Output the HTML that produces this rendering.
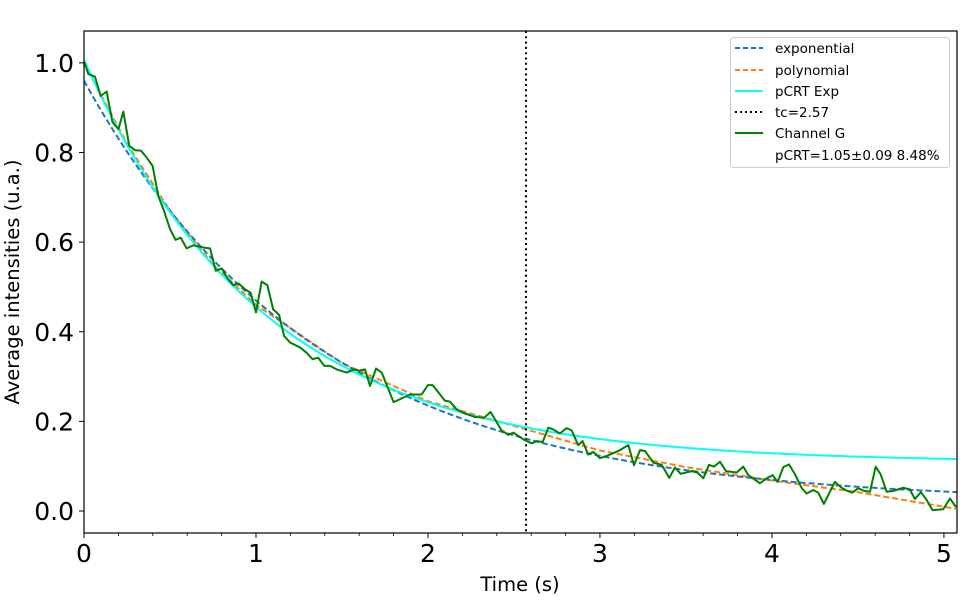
<!DOCTYPE html>
<html><head><meta charset="utf-8"><style>
body{margin:0;background:#fff}
svg text{font-family:"DejaVu Sans","Liberation Sans",sans-serif}
</style></head><body>
<svg id="chart" width="960" height="600" xmlns="http://www.w3.org/2000/svg">
<rect width="960" height="600" fill="#fff"/>
<g id="plot"></g>
<g id="axes"></g>
<text x="520" y="591" font-size="19.5" text-anchor="middle">Time (s)</text>
<text transform="translate(19,282) rotate(-90)" font-size="19.5" text-anchor="middle">Average intensities (u.a.)</text>
<g>
<rect x="730.5" y="37.5" width="219" height="130" rx="3" fill="#fff" fill-opacity="0.8" stroke="#ccc"/>
<line x1="735" y1="48" x2="763" y2="48" stroke="#1f77b4" stroke-width="2" stroke-dasharray="5,3"/>
<text x="775" y="53" font-size="13.5">exponential</text>
<line x1="735" y1="70" x2="763" y2="70" stroke="#ff7f0e" stroke-width="2" stroke-dasharray="5,3"/>
<text x="775" y="75" font-size="13.5">polynomial</text>
<line x1="735" y1="91" x2="763" y2="91" stroke="#00ffff" stroke-width="2"/>
<text x="775" y="96" font-size="13.5">pCRT Exp</text>
<line x1="735" y1="112" x2="763" y2="112" stroke="#000" stroke-width="2" stroke-dasharray="2,3"/>
<text x="775" y="117" font-size="13.5">tc=2.57</text>
<line x1="735" y1="133" x2="763" y2="133" stroke="#008000" stroke-width="2"/>
<text x="775" y="138" font-size="13.5">Channel G</text>
<text x="775" y="160" font-size="13.5">pCRT=1.05±0.09 8.48%</text>
</g>
</svg>
<script>
const greenT=[0,0.006,0.025,0.064,0.097,0.132,0.165,0.2,0.229,0.263,0.297,0.331,0.364,0.399,0.432,0.465,0.5,0.533,0.562,0.597,0.636,0.694,0.733,0.766,0.801,0.835,0.868,0.897,0.936,0.969,1.0,1.033,1.066,1.1,1.134,1.163,1.198,1.256,1.295,1.328,1.362,1.397,1.43,1.469,1.527,1.57,1.6,1.634,1.663,1.698,1.731,1.8,1.857,1.895,1.963,2.0,2.027,2.099,2.128,2.167,2.205,2.273,2.326,2.364,2.428,2.467,2.496,2.554,2.603,2.632,2.667,2.7,2.729,2.767,2.806,2.835,2.874,2.899,2.932,2.961,3.0,3.039,3.107,3.165,3.198,3.233,3.262,3.31,3.359,3.403,3.436,3.469,3.533,3.566,3.601,3.634,3.663,3.698,3.733,3.795,3.833,3.863,3.93,3.969,4.004,4.033,4.066,4.099,4.134,4.172,4.202,4.24,4.269,4.302,4.366,4.405,4.438,4.467,4.502,4.535,4.57,4.603,4.632,4.667,4.706,4.764,4.802,4.831,4.866,4.899,4.934,4.996,5.035,5.07];
const greenV=[1.0,0.997,0.975,0.969,0.926,0.936,0.868,0.852,0.891,0.815,0.805,0.804,0.789,0.77,0.703,0.67,0.629,0.605,0.61,0.586,0.593,0.588,0.586,0.536,0.541,0.519,0.504,0.508,0.495,0.487,0.443,0.512,0.504,0.45,0.438,0.391,0.376,0.365,0.353,0.339,0.342,0.324,0.324,0.316,0.309,0.316,0.313,0.316,0.279,0.318,0.309,0.243,0.253,0.26,0.26,0.281,0.281,0.246,0.244,0.227,0.219,0.21,0.208,0.221,0.18,0.17,0.175,0.16,0.151,0.156,0.154,0.186,0.182,0.173,0.185,0.18,0.147,0.156,0.126,0.132,0.118,0.123,0.134,0.147,0.102,0.136,0.134,0.108,0.103,0.074,0.097,0.083,0.089,0.086,0.073,0.103,0.099,0.11,0.089,0.086,0.099,0.08,0.062,0.073,0.08,0.065,0.098,0.104,0.082,0.052,0.039,0.047,0.041,0.016,0.065,0.052,0.045,0.041,0.051,0.045,0.043,0.099,0.082,0.043,0.045,0.052,0.048,0.027,0.042,0.025,0.002,0.004,0.028,0.009];
const polyT=[0,0.25,0.5,0.75,1,1.5,2,2.5,3,3.5,4,4.5,5.07];
const polyV=[1.0,0.82,0.67,0.55,0.46,0.33,0.245,0.19,0.135,0.098,0.068,0.042,0.005];
const expParams=[0.94,0.737,0.02];   // a, k, c : a*exp(-k t)+c
const pcrtParams=[0.898,1.05,0.109]; // a, pCRT, c : a*exp(-t/pCRT)+c
const tc=[2.57];
const xTicks=[0,1,2,3,4,5];
const yTicks=[0,0.2,0.4,0.6,0.8,1.0];
const yTickLabels=["0.0","0.2","0.4","0.6","0.8","1.0"];

const X0=84,X1=957,Y0=31,Y1=533;
const xmin=0,xmax=5.076,ymin=-0.049,ymax=1.071;
const sx=t=>X0+(t-xmin)/(xmax-xmin)*(X1-X0);
const sy=v=>Y1-(v-ymin)/(ymax-ymin)*(Y1-Y0);
const NS="http://www.w3.org/2000/svg";
const plot=document.getElementById('plot'),axes=document.getElementById('axes');
function mk(tag,attrs,parent){const e=document.createElementNS(NS,tag);for(const k in attrs)e.setAttribute(k,attrs[k]);parent.appendChild(e);return e;}
const clip=mk('clipPath',{id:'clp'},plot);mk('rect',{x:X0,y:Y0,width:X1-X0,height:Y1-Y0},clip);
function line(ts,vs,style,name){
  const d=ts.map((t,i)=>(i?'L':'M')+sx(t).toFixed(2)+','+sy(vs[i]).toFixed(2)).join('');
  const p=mk('path',Object.assign({d:d,fill:'none','clip-path':'url(#clp)'},style),plot);
  
  
}
const fT=[];for(let i=0;i<=200;i++)fT.push(xmax*i/200);
const expV=fT.map(t=>expParams[0]*Math.exp(-expParams[1]*t)+expParams[2]);
const pcrtV=fT.map(t=>pcrtParams[0]*Math.exp(-t/pcrtParams[1])+pcrtParams[2]);
line(polyT,polyV,{stroke:'#ff7f0e','stroke-width':2,'stroke-dasharray':'6,3'},'polynomial-line');
line(fT,expV,{stroke:'#1f77b4','stroke-width':2,'stroke-dasharray':'6,3'},'exponential-line');
line(fT,pcrtV,{stroke:'#00ffff','stroke-width':2},'pcrt-exp-line');
const tcl=mk('line',{x1:sx(tc[0]),x2:sx(tc[0]),y1:Y0,y2:Y1,stroke:'#000','stroke-width':2,'stroke-dasharray':'2,3.3'},plot);


line(greenT,greenV,{stroke:'#008000','stroke-width':2,'stroke-linejoin':'round'},'channel-g-line');
const fr=mk('rect',{x:X0,y:Y0,width:X1-X0,height:Y1-Y0,fill:'none',stroke:'#000','stroke-width':1.2},axes);


xTicks.forEach(t=>{
  const x=sx(t);
  mk('line',{x1:x,x2:x,y1:Y1,y2:Y1+5,stroke:'#000','stroke-width':1},axes);
  const tx=mk('text',{x:x,y:Y1+29,'font-size':25,'text-anchor':'middle'},axes);
  tx.textContent=String(t);
  
  
});
for(let i=1;i<=25;i++){const t=i*0.2;if(i%5===0||t>xmax)continue;const x=sx(t);mk('line',{x1:x,x2:x,y1:Y1,y2:Y1+3,stroke:'#000','stroke-width':0.8},axes);}
yTicks.forEach((v,i)=>{
  const y=sy(v);
  mk('line',{x1:X0-5,x2:X0,y1:y,y2:y,stroke:'#000','stroke-width':1},axes);
  const tx=mk('text',{x:X0-10,y:y+9,'font-size':25,'text-anchor':'end'},axes);
  tx.textContent=yTickLabels[i];
  
  
});
</script>
</body></html>
